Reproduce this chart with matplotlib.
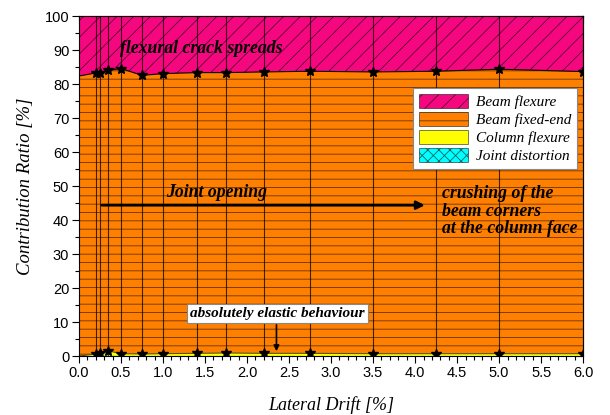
import matplotlib
matplotlib.use("Agg")
import matplotlib.pyplot as plt
import numpy as np
from matplotlib.ticker import MultipleLocator
from matplotlib.patches import Patch

drift = [0.0, 0.2, 0.25, 0.35, 0.5, 0.75, 1.0, 1.4, 1.75, 2.2, 2.75, 3.5, 4.25, 5.0, 6.0]
joint_distortion = [0.0, 0.1, 0.2, 0.3, 0.2, 0.2, 0.2, 0.2, 0.2, 0.2, 0.2, 0.2, 0.2, 0.2, 0.2]
column_flexure = [0.0, 0.5, 0.6, 1.2, 0.5, 0.4, 0.5, 0.6, 0.7, 0.6, 0.6, 0.5, 0.5, 0.5, 0.5]
beam_fixed_end = [82.4, 82.7, 82.6, 82.6, 83.9, 82.0, 82.4, 82.6, 82.5, 82.8, 83.0, 82.9, 83.1, 83.7, 83.0]
beam_flexure = [17.6, 16.7, 16.6, 15.9, 15.4, 17.4, 16.9, 16.6, 16.6, 16.4, 16.2, 16.4, 16.2, 15.6, 16.3]

labels = ["Beam flexure", "Beam fixed-end", "Column flexure", "Joint distortion"]
colors = ["#F5077F", "#FF8000", "#FFFF00", "#00FFFF"]
hatches = ["//", "--", "", "xxx"]

plt.rcParams["hatch.linewidth"] = 0.6
fig = plt.figure(figsize=(6.1, 4.15), dpi=100)
ax = fig.add_axes([0.1295, 0.142, 0.8265, 0.819])

x = np.array(drift)
l0 = np.zeros_like(x)
l1 = l0 + np.array(joint_distortion)
l2 = l1 + np.array(column_flexure)
l3 = l2 + np.array(beam_fixed_end)
l4 = l3 + np.array(beam_flexure)

hc = (0, 0, 0, 0.6)
ax.fill_between(x, l0, l1, facecolor=colors[3], edgecolor=hc, hatch=hatches[3], linewidth=0)
ax.fill_between(x, l1, l2, facecolor=colors[2], edgecolor=hc, linewidth=0)
ax.fill_between(x, l2, l3, facecolor=colors[1], edgecolor=hc, hatch=hatches[1], linewidth=0)
ax.fill_between(x, l3, l4, facecolor=colors[0], edgecolor=hc, hatch=hatches[0], linewidth=0)

ax.vlines(x[1:], 0, 100, color="black", linewidth=0.8, alpha=0.75)
ax.plot(x, l3, color="black", linewidth=0.8)
ax.plot(x[1:], l3[1:], linestyle="none", marker="*", color="black", markersize=7)
ax.plot(x, l2, color="#555500", linewidth=0.8)
ax.plot(x[1:], l2[1:], linestyle="none", marker="*", color="black", markersize=7)

ax.set_xlim(0, 6)
ax.set_ylim(0, 100)
ax.xaxis.set_major_locator(MultipleLocator(0.5))
ax.xaxis.set_minor_locator(MultipleLocator(0.1))
ax.yaxis.set_major_locator(MultipleLocator(10))
ax.yaxis.set_minor_locator(MultipleLocator(5))
ax.xaxis.set_major_formatter(matplotlib.ticker.FormatStrFormatter("%.1f"))
ax.tick_params(which="both", direction="out", top=False, right=False,
               labelsize=10.5, labelfontfamily="Liberation Sans", pad=2)
ax.tick_params(which="major", length=5, width=0.8)
ax.tick_params(which="minor", length=3, width=0.8)

sx = ax.secondary_xaxis("top")
sx.xaxis.set_major_locator(MultipleLocator(0.5))
sx.xaxis.set_minor_locator(MultipleLocator(0.1))
sx.tick_params(which="both", direction="in", labeltop=False)
sx.tick_params(which="major", length=5)
sx.tick_params(which="minor", length=3)
sy = ax.secondary_yaxis("right")
sy.yaxis.set_major_locator(MultipleLocator(10))
sy.yaxis.set_minor_locator(MultipleLocator(5))
sy.tick_params(which="both", direction="in", labelright=False)
sy.tick_params(which="major", length=5)
sy.tick_params(which="minor", length=3)

serif = "Liberation Serif"
ax.set_xlabel("Lateral Drift [%]", fontfamily=serif, fontstyle="italic", fontsize=13, labelpad=12)
ax.set_ylabel("Contribution Ratio [%]", fontfamily=serif, fontstyle="italic", fontsize=13.5, labelpad=8)

big = 12.8
ax.text(0.49, 90.6, "flexural crack spreads", fontfamily=serif, fontstyle="italic",
        fontweight="bold", fontsize=big, va="center", ha="left")
ax.text(1.04, 48.2, "Joint opening", fontfamily=serif, fontstyle="italic",
        fontweight="bold", fontsize=big, va="center", ha="left")
ax.annotate("", xy=(4.15, 44.4), xytext=(0.24, 44.4),
            arrowprops=dict(arrowstyle="-|>", color="black", lw=2, mutation_scale=12))
ax.text(4.32, 42.6, "crushing of the\nbeam corners\nat the column face", fontfamily=serif,
        fontstyle="italic", fontweight="bold", fontsize=big, va="center", ha="left",
        linespacing=1.05)
ax.text(2.36, 12.6, "absolutely elastic behaviour", fontfamily=serif, fontstyle="italic",
        fontweight="bold", fontsize=11, va="center", ha="center",
        bbox=dict(boxstyle="square,pad=0.2", facecolor="white", edgecolor="#888888", linewidth=0.8))
ax.annotate("", xy=(2.35, 0.6), xytext=(2.35, 10),
            arrowprops=dict(arrowstyle="-|>", color="black", lw=1.2, mutation_scale=8))

handles = [Patch(facecolor=colors[i], edgecolor=(0, 0, 0, 0.6), hatch=hatches[i], linewidth=0.6)
           for i in range(4)]
leg = ax.legend(handles, labels, loc="upper left", bbox_to_anchor=(0.648, 0.812),
                prop=dict(family=serif, style="italic", size=11), frameon=True, fancybox=False,
                edgecolor="#888888", framealpha=1, handlelength=3.2, handleheight=1.0,
                borderpad=0.4, labelspacing=0.2, handletextpad=0.5)
leg.get_frame().set_linewidth(0.8)

fig.savefig("out.png", dpi=100)
